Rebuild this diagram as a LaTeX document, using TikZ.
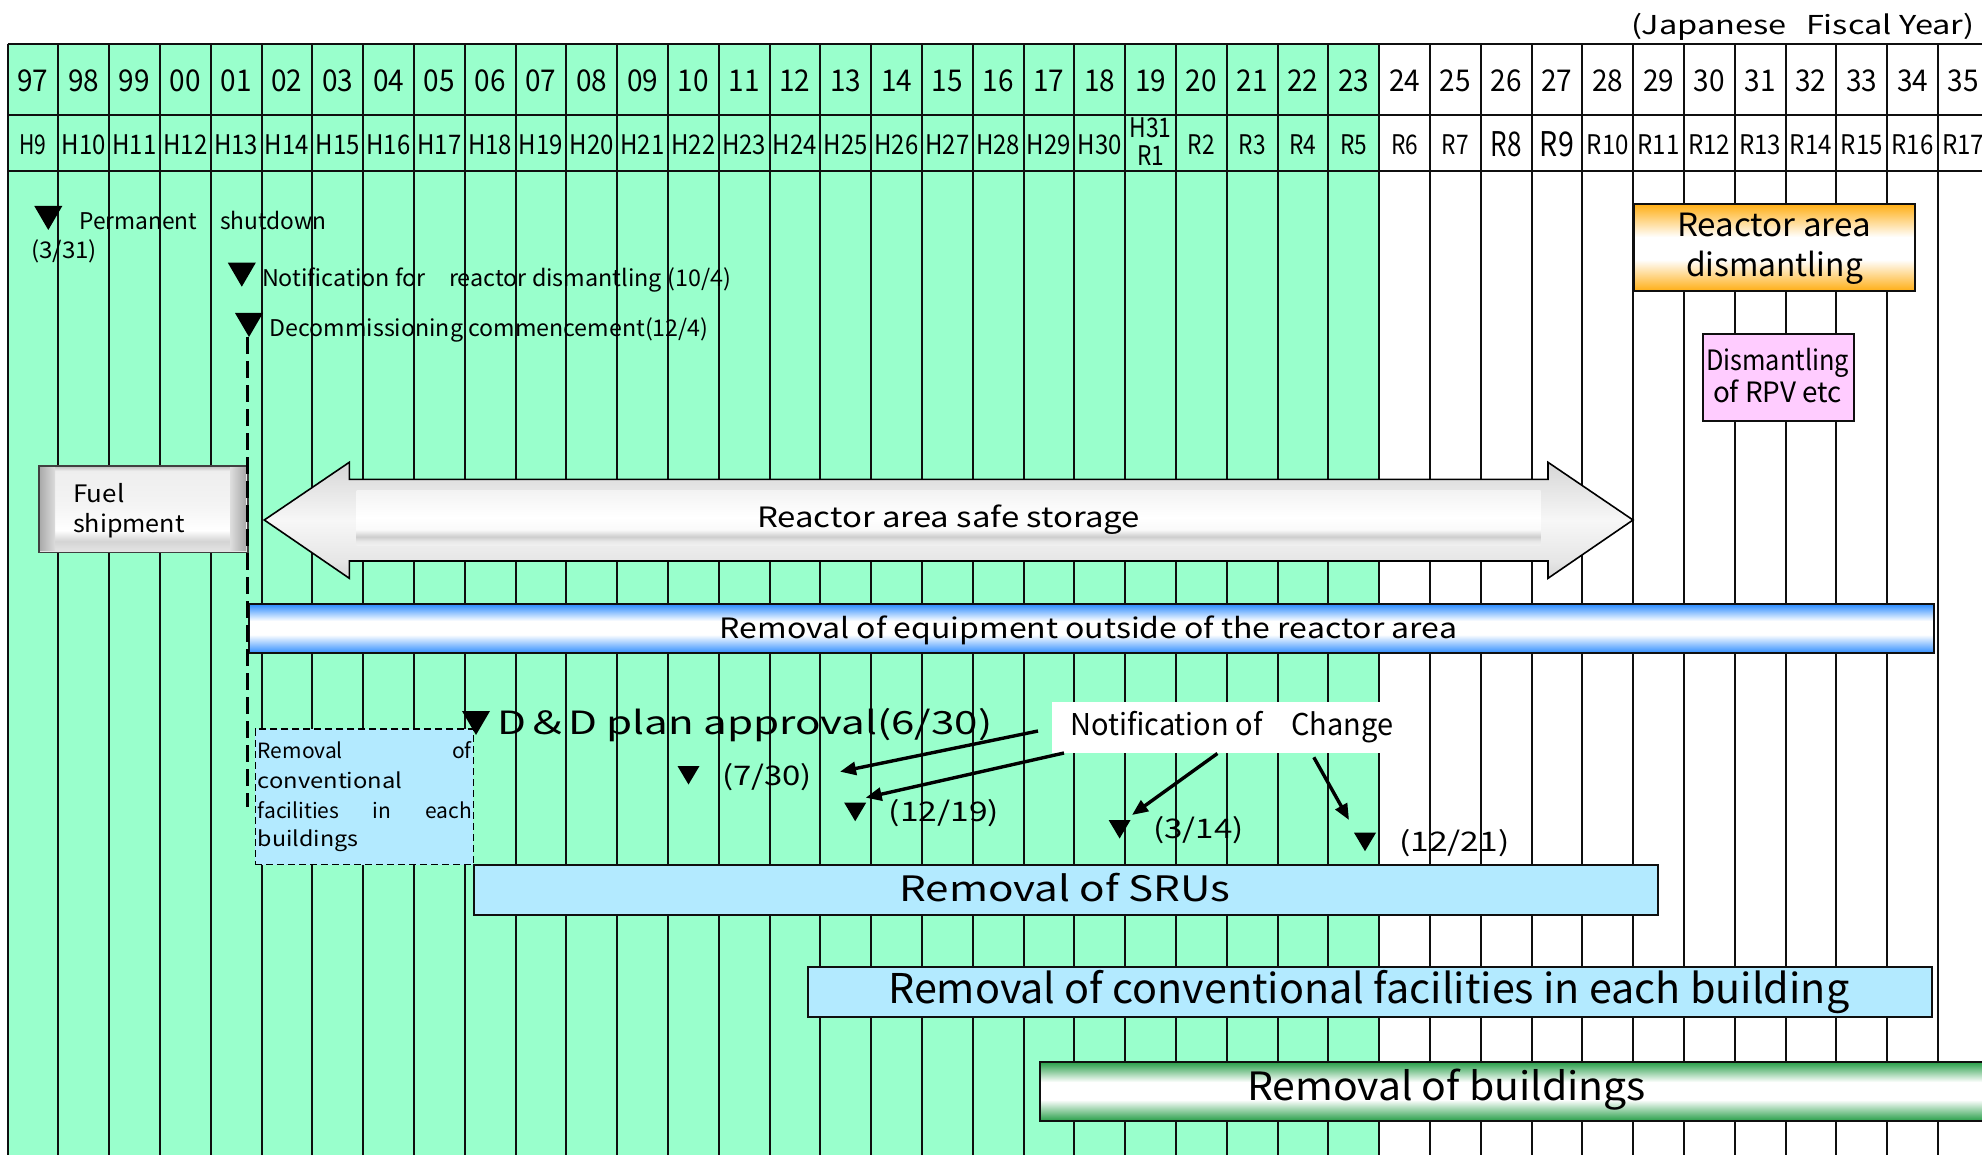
\documentclass[tikz,border=0pt]{standalone}
\usepackage{fontspec}
\usepackage{graphicx}
\setmainfont{Noto Sans CJK JP}
\usetikzlibrary{arrows.meta}
\newlength\pxu
\setlength\pxu{0.5pt}
\newcommand\fpx[1]{\fontsize{\fpeval{#1/2}}{\fpeval{#1*0.6}}\selectfont}
\newcommand\fw[3]{\resizebox{#1\pxu}{\height}{\fpx{#2}#3}}
\definecolor{bggreen}{RGB}{153,255,204}
\definecolor{lblue}{RGB}{179,234,255}
\definecolor{pinkf}{RGB}{255,204,255}
\definecolor{barblue}{RGB}{45,140,255}
\definecolor{orng}{RGB}{255,174,20}
\definecolor{grn}{RGB}{38,158,72}
\definecolor{gridc}{RGB}{15,15,15}
\definecolor{ga}{RGB}{214,214,214}
\definecolor{gb}{RGB}{230,230,230}
\definecolor{gc}{RGB}{247,247,247}
\definecolor{gd}{RGB}{224,224,224}
\definecolor{ge}{RGB}{240,240,240}
\definecolor{gf}{RGB}{232,232,232}
\definecolor{gg}{RGB}{205,205,205}
\definecolor{gh}{RGB}{250,250,250}
\definecolor{gi}{RGB}{243,243,243}
\definecolor{fa}{RGB}{228,228,228}
\definecolor{fb}{RGB}{212,212,212}
\definecolor{fc}{RGB}{244,244,244}
\definecolor{fd}{RGB}{238,238,238}
\definecolor{fe}{RGB}{196,196,196}
\definecolor{capd}{RGB}{168,168,168}
\definecolor{capl}{RGB}{220,220,220}
\pgfdeclareverticalshading{shblue}{100bp}{color(0bp)=(barblue); color(25bp)=(barblue); color(44bp)=(white); color(58bp)=(white); color(75bp)=(barblue); color(100bp)=(barblue)}
\pgfdeclareverticalshading{shorange}{100bp}{color(0bp)=(orng); color(25bp)=(orng); color(43bp)=(white); color(56bp)=(white); color(75bp)=(orng); color(100bp)=(orng)}
\pgfdeclareverticalshading{shgreen}{100bp}{color(0bp)=(grn); color(25bp)=(grn); color(43bp)=(white); color(58bp)=(white); color(75bp)=(grn); color(100bp)=(grn)}
\pgfdeclareverticalshading{sharrow}{100bp}{color(0bp)=(ga); color(25bp)=(ga); color(32.5bp)=(gb); color(50bp)=(gc); color(67.5bp)=(gd); color(75bp)=(ga); color(100bp)=(ga)}
\pgfdeclareverticalshading{shinner}{100bp}{color(0bp)=(ge); color(25bp)=(ge); color(28.5bp)=(gf); color(32.5bp)=(gg); color(39bp)=(gh); color(50bp)=(white); color(75bp)=(gi); color(100bp)=(gi)}
\pgfdeclareverticalshading{shfuel}{100bp}{color(0bp)=(fa); color(25bp)=(fa); color(31bp)=(fb); color(37.5bp)=(white); color(52.5bp)=(fc); color(72.5bp)=(fd); color(75bp)=(fe); color(100bp)=(fe)}
\begin{document}
\begin{tikzpicture}[x=0.5pt,y=-0.5pt,
  gridl/.style={draw=gridc,line width=1pt},
  lab/.style={inner sep=0pt,anchor=base},
  labw/.style={inner sep=0pt,anchor=base west},
  bx/.style={draw=gridc,line width=1pt,inner sep=0pt,anchor=north west},
  notearrow/.style={line width=1.7pt,-{Triangle[length=8pt,width=6.5pt]}},
  dashln/.style={line width=1.3pt,dash pattern=on 8.5pt off 3.5pt},
  bigtri/.pic={\fill (-14,0) -- (14,0) -- (0,24) -- cycle;},
  smalltri/.pic={\fill (-11,0) -- (11,0) -- (0,18.5) -- cycle;}]
\useasboundingbox (0,0) rectangle (1982,1155);
\fill[white] (0,0) rectangle (1982,1155);
\fill[bggreen] (7.5,44) rectangle (1379.1,1155);
% grid
\foreach \k in {0,...,39} \draw[gridl] ({7.5+50.8*\k},44) -- ({7.5+50.8*\k},1155);
\foreach \yy in {44,115,171} \draw[gridl] (7.5,\yy) -- (1990,\yy);
% header
\node[labw] (jfy) at (1631,35) {\fw{343}{26}{(Japanese\hspace{0.6em}Fiscal Year)}};
\foreach \yr [count=\k from 0] in {97,98,99,00,01,02,03,04,05,06,07,08,09,10,11,12,13,14,15,16,17,18,19,20,21,22,23,24,25,26,27,28,29,30,31,32,33,34,35}
  \node[lab] (yr\k) at ({7.5+50.8*\k+25.4},91.5) {\fw{31}{30}{\yr}};
\node[lab] (erH9) at (32.9,155) {\fw{27}{27}{H9}};
\foreach \n in {10,...,30}
  \node[lab] (erH\n) at ({7.5+50.8*(\n-9)+25.4},155) {\fw{44}{27}{H\n}};
\node[lab] (erH31) at (1150.5,138) {\fw{42}{27}{H31}};
\node[lab] (erR1) at (1150.5,166) {\fw{27}{27}{R1}};
\foreach \n in {2,...,7}
  \node[lab] (erR\n) at ({7.5+50.8*(\n+21)+25.4},155) {\fw{27}{27}{R\n}};
\node[lab] (erR8) at (1506.1,157) {\fw{31}{34}{R8}};
\node[lab] (erR9) at (1556.9,157) {\fw{34}{34}{R9}};
\foreach \n in {10,...,17}
  \node[lab] (erR\n) at ({7.5+50.8*(\n+21)+25.4},155) {\fw{42}{27}{R\n}};
% events top
\pic (tr1) at (48.3,206) {bigtri};
\node[labw] (ev1) at (79,230) {\fw{247}{23}{Permanent　shutdown}};
\node[labw] (ev1d) at (30.7,259) {\fw{66}{23}{(3/31)}};
\pic (tr2) at (241.8,262.7) {bigtri};
\node[labw] (ev2) at (261.7,286.7) {\fw{469}{23}{Notification for　reactor dismantling (10/4)}};
\pic (tr3) at (249,313) {bigtri};
\node[labw] (ev3) at (269.3,336.7) {\fw{438.7}{23}{Decommissioning commencement(12/4)}};
% reactor area dismantling
\node[bx,shade,shading=shorange,minimum width=140.5pt,minimum height=43.5pt] (rad) at (1633,203) {};
\node[lab] (radt1) at (1774,237) {\fw{194}{32}{Reactor area}};
\node[lab] (radt2) at (1774.5,277) {\fw{177}{32}{dismantling}};
\node[bx,fill=pinkf,minimum width=75.5pt,minimum height=43.5pt] (rpv) at (1702,333) {};
\node[lab] (rpvt1) at (1777.5,371) {\fw{143}{28}{Dismantling}};
\node[lab] (rpvt2) at (1777.5,402) {\fw{129}{28}{of RPV etc}};
% fuel shipment
\node[bx,draw=none,shade,shading=shfuel,minimum width=103.5pt,minimum height=42.3pt] (fuel) at (39,465.7) {};
\shade[left color=capd,right color=capl] (39,465.7) rectangle (55,550.3);
\shade[left color=capl,right color=capd] (230.7,465.7) rectangle (246,550.3);
\draw[black!75,line width=0.8pt] (fuel.north west) rectangle (fuel.south east);
\node[labw] (fuelt1) at (72.7,502.3) {\fw{51.3}{24}{Fuel}};
\node[labw] (fuelt2) at (72.7,532.3) {\fw{111.6}{24}{shipment}};
% safe storage double arrow
\shadedraw[shading=sharrow,draw=black,line width=0.8pt]
  (264.3,520) -- (349.3,462.3) -- (349.3,479.3) -- (1548,479.3) -- (1548,462.3) -- (1633,520)
  -- (1548,578.3) -- (1548,561) -- (349.3,561) -- (349.3,578.3) -- cycle;
\shade[shading=shinner] (356.7,490) rectangle (1540.7,545);
\node[lab] (rass) at (948.5,527) {\fw{383}{28}{Reactor area safe storage}};
% equipment bar
\node[bx,shade,shading=shblue,minimum width=842.35pt,minimum height=24.5pt] (eqbar) at (248.3,603.3) {};
\node[lab] (eqt) at (1088.5,638) {\fw{737}{28}{Removal of equipment outside of the reactor area}};
% dashed box
\node[bx,fill=lblue,draw=black,line width=0.7pt,dash pattern=on 3.5pt off 2pt,minimum width=109.1pt,minimum height=67.85pt] (convd) at (254.5,728.3) {};
\node[labw] (cd1) at (257.4,758.3) {\fpx{21}\makebox[214\pxu][s]{Removal of}};
\node[labw] (cd2) at (257.4,788.3) {\fw{144.6}{21}{conventional}};
\node[labw] (cd3) at (257.4,818.3) {\fpx{21}\makebox[214\pxu][s]{facilities in each}};
\node[labw] (cd4) at (257.4,846.7) {\fw{100.5}{21}{buildings}};
% D&D
\pic (trdd) at (476,711) {bigtri};
\node[labw] (ddt) at (496.7,734.3) {\fw{495.3}{32}{D＆D plan approval(6/30)}};
\pic (tr730) at (688.5,766) {smalltri};
\node[labw] (d730) at (721.7,785) {\fw{90}{27}{(7/30)}};
\pic (tr1219) at (855.2,802.7) {smalltri};
\node[labw] (d1219) at (888.3,821) {\fw{110.3}{27}{(12/19)}};
\pic (tr314) at (1119.6,820) {smalltri};
\node[labw] (d314) at (1153,838) {\fw{90.4}{27}{(3/14)}};
\pic (tr1221) at (1365,832.7) {smalltri};
\node[labw] (d1221) at (1398.8,851.7) {\fw{110.2}{27}{(12/21)}};
% notification of change
\node[anchor=north west,fill=white,inner sep=0pt,minimum width=171.15pt,minimum height=25.75pt] (ncbox) at (1051.7,701.5) {};
\node[labw] (nct) at (1070,735) {\fw{323}{30}{Notification of　Change}};
\coordinate (a1s) at (1038,731);
\coordinate (a1e) at (840,771.7);
\coordinate (a2s) at (1064,753);
\coordinate (a2e) at (865.7,797.7);
\coordinate (a3s) at (1217.4,753.5);
\coordinate (a3e) at (1132,815);
\coordinate (a4s) at (1313.8,757.3);
\coordinate (a4e) at (1349,820);
\draw[notearrow] (a1s) -- (a1e);
\draw[notearrow] (a2s) -- (a2e);
\draw[notearrow] (a3s) -- (a3e);
\draw[notearrow] (a4s) -- (a4e);
% bars
\node[bx,fill=lblue,minimum width=592.15pt,minimum height=25pt] (sru) at (472.7,864) {};
\node[lab] (srut) at (1064.9,901.8) {\fw{331}{35}{Removal of SRUs}};
\node[bx,fill=lblue,minimum width=562.2pt,minimum height=25pt] (conv) at (806.6,966) {};
\node[lab] (convt) at (1368.8,1003.3) {\fw{961}{41}{Removal of conventional facilities in each building}};
\node[bx,shade,shading=shgreen,minimum width=480pt,minimum height=29.5pt] (bld) at (1039,1061) {};
\node[lab] (bldt) at (1446.5,1100) {\fw{399}{39}{Removal of buildings}};
% dashed commencement line
\coordinate (dstart) at (247.5,337);
\coordinate (dend) at (247.5,807);
\draw[dashln] (dstart) -- (dend);
\end{tikzpicture}
\end{document}
